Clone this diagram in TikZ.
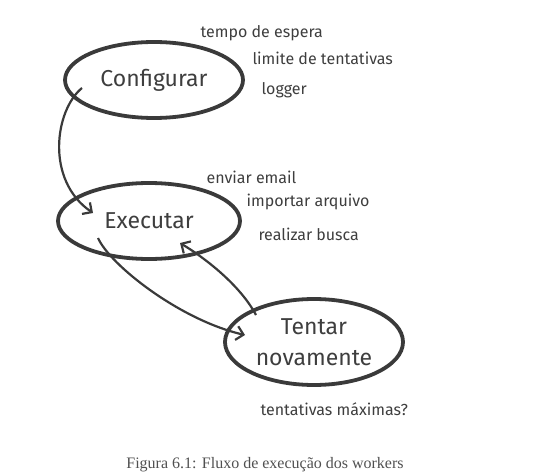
\documentclass[tikz,border=0pt]{standalone}
\usepackage{fontspec}
\setmainfont{Liberation Serif}
\newfontfamily\sketchfont{Fira Sans}
\usetikzlibrary{arrows.meta,shapes.geometric}
\definecolor{sketchgray}{RGB}{58,58,58}
\definecolor{labelgray}{RGB}{62,62,62}
\definecolor{capgray}{RGB}{80,80,80}
\tikzset{
  phase/.style={draw=sketchgray, line width=3.8pt, ellipse, inner sep=0pt, align=center,
    font=\sketchfont\fontsize{23}{31}\selectfont, text=labelgray},
  flow/.style={draw=sketchgray, line width=2.2pt, -{Straight Barb[length=7pt,width=14pt]}},
  tag/.style={anchor=base west, font=\sketchfont\fontsize{16}{19}\selectfont, text=labelgray}
}

\begin{document}
\begin{tikzpicture}[x=1pt,y=-1pt]
  \useasboundingbox (0,0) rectangle (533,476);
  % Phases
  \node[phase, minimum width=178pt, minimum height=76pt] (conf) at (154,80) {Configurar};
  \node[phase, minimum width=182pt, minimum height=76pt] (exec) at (149,221) {Executar};
  \node[phase, minimum width=178pt, minimum height=86pt] (retry) at (314,342) {Tentar\\novamente};
  % Notes beside each phase
  \node[tag] (espera) at (197,38) {tempo de espera};
  \node[tag] (limite) at (249,65) {limite de tentativas};
  \node[tag] (logger) at (258,95) {logger};
  \node[tag] (email) at (203,183) {enviar email};
  \node[tag] (arquivo) at (243,207) {importar arquivo};
  \node[tag] (busca) at (255,240) {realizar busca};
  \node[tag] (maximas) at (257,415) {tentativas máximas?};
  % Flow
  \draw[flow] ([xshift=-72pt,yshift=-8pt]conf.center) .. controls (55,110) and (45,180) .. ([xshift=-56pt,yshift=8pt]exec.center);
  \draw[flow] ([xshift=-51pt,yshift=-17pt]exec.center) .. controls (110,265) and (180,320) .. ([xshift=-69pt,yshift=7pt]retry.center);
  \draw[flow] ([xshift=-58pt,yshift=27pt]retry.center) .. controls (240,285) and (205,258) .. ([xshift=31pt,yshift=-22pt]exec.center);
  % Caption
  \node[font=\fontsize{16}{19}\selectfont, text=capgray] (caption) at (265,465) {Figura 6.1: Fluxo de execução dos workers};
\end{tikzpicture}
\end{document}
